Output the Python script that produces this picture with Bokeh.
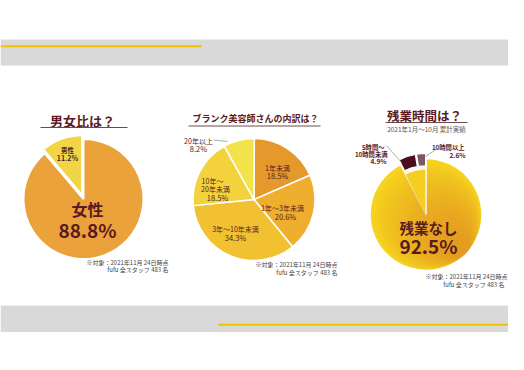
import numpy as np
from bokeh.plotting import figure
from bokeh.models import Range1d, ColumnDataSource
from bokeh.core.properties import value
from bokeh.embed import file_html
from bokeh.resources import INLINE

# ---------------- data ----------------
gender_labels = ["女性", "男性"]
gender_pct = [88.8, 11.2]

blank_labels = ["1年未満", "1年〜3年未満", "3年〜10年未満", "10年〜\n20年未満", "20年以上"]
blank_pct = [18.5, 20.6, 34.3, 18.5, 8.2]

ot_labels = ["残業なし", "5時間〜\n10時間未満", "10時間以上"]
ot_pct = [92.5, 4.9, 2.6]

note_lines = ["※対象：2021年11月 24日時点", "fufu 全スタッフ 483 名"]

FONT = "Noto Sans CJK JP"
MAROON = "#5A1A22"

W, H = 508, 354
p = figure(width=W, height=H, x_range=Range1d(0, 508), y_range=Range1d(16, 370),
           toolbar_location=None, output_backend="svg", min_border=0,
           background_fill_color="white", border_fill_color="white")
p.outline_line_color = None
p.axis.visible = False
p.grid.visible = False


def Y(yr):
    return 370 - yr


def txt(x, y, t, size, color=MAROON, style="bold", align="center"):
    p.text(x=[x], y=[Y(y)], text=[t], text_font=value(FONT), text_font_size=f"{size}px",
           text_font_style=style, text_color=color, text_align=align,
           text_baseline="middle", text_line_height=1.15)


# ---------------- frame bands ----------------
p.quad(left=[0], right=[508], top=[Y(39)], bottom=[Y(65)], fill_color="#D9D9D9", line_color=None)
p.quad(left=[0], right=[508], top=[Y(305)], bottom=[Y(331.5)], fill_color="#D9D9D9", line_color=None)
p.segment(x0=[0], y0=[Y(45.7)], x1=[201], y1=[Y(45.7)], line_color="#F5C000", line_width=2)
p.segment(x0=[218], y0=[Y(324.3)], x1=[508], y1=[Y(324.3)], line_color="#F5C000", line_width=2)


def clockwise_angles(pcts):
    c = np.cumsum([0] + list(pcts)) / 100.0 * 2 * np.pi
    starts = np.pi / 2 - c[1:]
    ends = np.pi / 2 - c[:-1]
    return starts, ends


# ---------------- chart 1 ----------------
cx, cy, r = 83, 198.5, 60
s, e = clockwise_angles(gender_pct)
explode = [0, 4]
mid = (s + e) / 2
xs = [cx + ex * np.cos(m) for ex, m in zip(explode, mid)]
ys = [Y(cy) + ex * np.sin(m) for ex, m in zip(explode, mid)]
src1 = ColumnDataSource(dict(x=xs, y=ys, s=s, e=e, c=["#EBA23A", "#F1D546"]))
p.wedge(x="x", y="y", radius=r, start_angle="s", end_angle="e",
        fill_color="c", line_color="white", line_width=2, source=src1)
txt(82, 120, "男女比は？", 13)
p.segment(x0=[40], y0=[Y(127)], x1=[127], y1=[Y(127)], line_color="#6E4A50", line_width=1)
txt(87, 208, gender_labels[0], 16)
txt(87, 228.5, f"{gender_pct[0]}%", 19)
txt(67, 149, gender_labels[1], 6.5)
txt(67, 157, f"{gender_pct[1]}%", 7)
txt(168, 262, note_lines[0], 6, color="#444444", style="normal", align="right")
txt(168, 269, note_lines[1], 6, color="#444444", style="normal", align="right")

# ---------------- chart 2 ----------------
cx, cy, r = 253.5, 199, 61
s, e = clockwise_angles(blank_pct)
src2 = ColumnDataSource(dict(x=[cx] * 5, y=[Y(cy)] * 5, s=s, e=e,
                             c=["#E5992C", "#F0AE2E", "#F2C132", "#F3D23E", "#F2E24C"]))
p.wedge(x="x", y="y", radius=r, start_angle="s", end_angle="e",
        fill_color="c", line_color="white", line_width=1.5, source=src2)
txt(255, 118, "ブランク美容師さんの内訳は？", 9)
p.segment(x0=[188], y0=[Y(125.5)], x1=[320], y1=[Y(125.5)], line_color="#6E4A50", line_width=1)
pos2 = [(277, 167, 175), (282, 207, 216), (235, 228, 237), (212, 184, 197), (198, 140, 148)]
for lab, v, (lx, ly, py) in zip(blank_labels, blank_pct, pos2):
    if "\n" in lab:
        a, b = lab.split("\n")
        txt(lx, ly - 4, a, 7, style="normal")
        txt(lx + 3, ly + 4, b, 7, style="normal")
        txt(lx + 5, py, f"{v}%", 7.5, style="normal")
    else:
        txt(lx, ly, lab, 7, style="normal")
        txt(lx + (3 if lx > 280 else 0), py, f"{v}%", 7.5, style="normal")
p.segment(x0=[213], y0=[Y(139.5)], x1=[227], y1=[Y(141)], line_color="#999999", line_width=0.8)
txt(337, 264, note_lines[0], 6, color="#444444", style="normal", align="right")
txt(337, 271.5, note_lines[1], 6, color="#444444", style="normal", align="right")

# ---------------- chart 3 ----------------
cx, cy, r = 425.5, 214, 56
s, e = clockwise_angles(ot_pct)
p.wedge(x=[cx], y=[Y(cy)], radius=r, start_angle=[s[0]], end_angle=[e[0]],
        fill_color="#F6D31E", line_color="white", line_width=1.5)
# soft yellow-to-orange shading toward the lower right (internally tangent circles)
ks = np.arange(1, 17)
dk = ks * 2.9
gdir = np.deg2rad(-45)
p.circle(x=cx + dk * np.cos(gdir), y=Y(cy) + dk * np.sin(gdir), radius=r - dk,
         fill_color="#E88A28", fill_alpha=0.065, line_color=None)
# fill behind the small slices
p.wedge(x=[cx], y=[Y(cy)], radius=r * 0.8, start_angle=[s[2]], end_angle=[e[1]],
        fill_color="#F5CE1F", line_color=None)
p.segment(x0=[cx], y0=[Y(cy)], x1=[cx], y1=[Y(cy) + r], line_color="white", line_width=1.2)
mid = (s + e) / 2
ex = 5
src3 = ColumnDataSource(dict(x=[cx + ex * np.cos(m) for m in mid[1:]],
                             y=[Y(cy) + ex * np.sin(m) for m in mid[1:]],
                             s=s[1:], e=e[1:], c=["#4A0E1C", "#7C5862"]))
p.annular_wedge(x="x", y="y", inner_radius=r * 0.78, outer_radius=r, start_angle="s", end_angle="e",
                fill_color="c", line_color="white", line_width=1.2, source=src3)
txt(424, 115, "残業時間は？", 12.5)
p.segment(x0=[385], y0=[Y(122)], x1=[467], y1=[Y(122)], line_color="#6E4A50", line_width=1)
txt(426, 128.5, "2021年1月〜10月 累計実績", 6.5, color="#555555", style="normal")
txt(428, 226.5, ot_labels[0], 14.5)
txt(428, 245, f"{ot_pct[0]}%", 19)
a, b = ot_labels[1].split("\n")
txt(384, 147, a, 6.3, align="right")
txt(387, 153.5, b, 6.3, align="right")
txt(386, 160, f"{ot_pct[1]}%", 6.5, align="right")
txt(464, 147, ot_labels[2], 6.3, align="right")
txt(465, 154, f"{ot_pct[2]}%", 6.5, align="right")
p.segment(x0=[386, 440], y0=[Y(145), Y(146)], x1=[401, 425], y1=[Y(162), Y(156)],
          line_color="#999999", line_width=0.8)
txt(507, 276, note_lines[0], 6, color="#444444", style="normal", align="right")
txt(504, 283.5, note_lines[1], 6, color="#444444", style="normal", align="right")

open("out.html", "w").write(file_html(p, INLINE))
